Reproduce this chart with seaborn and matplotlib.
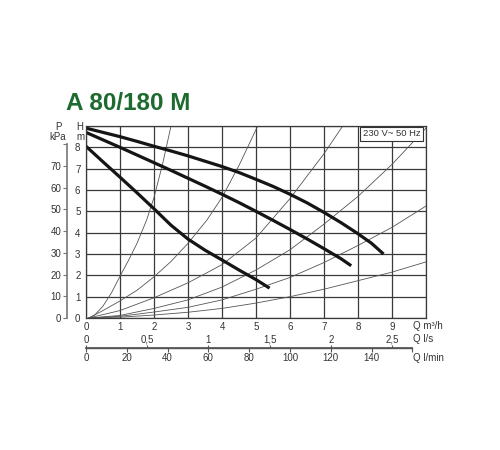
import numpy as np
import pandas as pd
import seaborn as sns
import matplotlib.pyplot as plt

# pump curves: Q in m3/h, H in m (3 speeds)
q_max = [0, 0.5, 1, 1.5, 2, 2.5, 3, 3.5, 4, 4.5, 5, 5.5, 6, 6.5, 7, 7.5, 8, 8.4, 8.75]
h_max = [8.9, 8.7, 8.5, 8.28, 8.05, 7.83, 7.6, 7.35, 7.1, 6.82, 6.5, 6.17, 5.8, 5.4,
         4.95, 4.47, 3.95, 3.5, 3.0]
q_mid = [0, 0.5, 1, 1.5, 2, 2.5, 3, 3.5, 4, 4.5, 5, 5.5, 6, 6.5, 7, 7.5, 7.8]
h_mid = [8.7, 8.35, 8.0, 7.64, 7.28, 6.92, 6.55, 6.18, 5.8, 5.41, 5.0, 4.58, 4.15,
         3.71, 3.25, 2.78, 2.45]
q_min = [0, 0.5, 1, 1.5, 2, 2.5, 3, 3.5, 4, 4.5, 5, 5.4]
h_min = [8.05, 7.32, 6.6, 5.87, 5.12, 4.35, 3.7, 3.18, 2.72, 2.25, 1.8, 1.4]

# system curves (thin lines)
sys_a_q = [0.08, 0.25, 0.5, 0.75, 1, 1.25, 1.5, 1.78, 2, 2.25, 2.5]
sys_a_h = [0, 0.13, 0.56, 1.18, 1.96, 2.7, 3.5, 4.58, 5.65, 7.2, 9.0]
sys_b_q = [0.08, 0.5, 1, 1.5, 2, 2.5, 3, 3.55, 4, 4.5, 5.05]
sys_b_h = [0, 0.35, 0.8, 1.3, 1.93, 2.65, 3.5, 4.58, 5.65, 7.15, 9.0]
sys_c_q = [0.08, 1, 2, 3, 4, 5, 6, 7, 7.55]
sys_c_h = [0, 0.35, 0.95, 1.65, 2.5, 3.75, 5.6, 7.7, 9.0]
sys_d_q = [0.08, 1, 2, 3, 4, 5, 6, 7, 8, 9, 10]
sys_d_h = [0, 0.12, 0.45, 0.85, 1.45, 2.25, 3.2, 4.4, 5.7, 7.2, 8.9]
sys_e_q = [0.08, 1, 2, 3, 4, 5, 6, 7, 8, 9, 10]
sys_e_h = [0, 0.08, 0.28, 0.5, 0.85, 1.35, 1.9, 2.6, 3.4, 4.25, 5.25]
sys_f_q = [0.08, 1, 2, 3, 4, 5, 6, 7, 8, 9, 10]
sys_f_h = [0, 0.04, 0.14, 0.27, 0.45, 0.7, 1.0, 1.35, 1.75, 2.15, 2.63]

# axis ticks
q_ticks = list(range(11))
q_labels = [str(i) for i in range(10)] + [""]
h_ticks = list(range(10))
h_labels = [str(i) for i in range(9)] + [""]
p_ticks = [0, 10, 20, 30, 40, 50, 60, 70, 80]
p_labels = ["0", "10", "20", "30", "40", "50", "60", "70", ""]
ls_ticks = [0, 0.5, 1, 1.5, 2, 2.5]
ls_labels = ["0", "0,5", "1", "1,5", "2", "2,5"]
lmin_ticks = [0, 20, 40, 60, 80, 100, 120, 140, 160]
lmin_labels = ["0", "20", "40", "60", "80", "100", "120", "140", ""]

sns.set_theme(style="white")
plt.rcParams["font.family"] = ["Liberation Sans", "DejaVu Sans"]
plt.rcParams["axes.unicode_minus"] = False

TXT = "#333333"
GRID = "#3a3a3a"

fig = plt.figure(figsize=(5, 4.5), dpi=100)
ax = fig.add_axes([0.172, 0.2933, 0.68, 0.4267])

thin = [(sys_a_q, sys_a_h), (sys_b_q, sys_b_h), (sys_c_q, sys_c_h),
        (sys_d_q, sys_d_h), (sys_e_q, sys_e_h), (sys_f_q, sys_f_h)]
for q, h in thin:
    sns.lineplot(x=q, y=h, ax=ax, color="#555555", lw=0.6, sort=False, estimator=None)

for q, h in [(q_max, h_max), (q_mid, h_mid), (q_min, h_min)]:
    sns.lineplot(x=q, y=h, ax=ax, color="#151515", lw=2.3, sort=False,
                 estimator=None, solid_capstyle="butt", solid_joinstyle="round")

ax.set_xlim(0, 10)
ax.set_ylim(0, 9)
ax.set_xticks(q_ticks)
ax.set_xticklabels(q_labels)
ax.set_yticks(h_ticks)
ax.set_yticklabels(h_labels)
ax.grid(True, color=GRID, lw=0.9)
ax.set_axisbelow(True)
for s in ax.spines.values():
    s.set_color(GRID)
    s.set_linewidth(0.9)
ax.tick_params(axis="both", direction="out", length=3, width=0.8, color=GRID,
               labelsize=7, labelcolor=TXT, pad=1)
ax.tick_params(axis="x", pad=0)
ax.set_xlabel("")
ax.set_ylabel("")

# kPa axis on the left
pax = ax.secondary_yaxis(-0.057, functions=(lambda h: h * 9.81, lambda p: p / 9.81))
pax.set_yticks(p_ticks)
pax.set_yticklabels(p_labels)
pax.spines["left"].set_bounds(0, 80)
pax.spines["left"].set_color("#777777")
pax.spines["left"].set_linewidth(1.2)
pax.tick_params(axis="y", direction="out", length=3, width=0.8, color="#777777",
                labelsize=7, labelcolor=TXT, pad=1)

# flow axes below
lsax = ax.secondary_xaxis(-0.1547, functions=(lambda q: q / 3.6, lambda v: v * 3.6))
lsax.set_alignment("top")
lsax.set_xticks(ls_ticks)
lsax.set_xticklabels(ls_labels)
lsax.spines["top"].set_bounds(0, 160 / 60)
lsax.spines["top"].set_color("#555555")
lsax.tick_params(axis="x", direction="out", length=2.5, width=0.8, color="#555555",
                 labelsize=7, labelcolor=TXT, pad=-0.5)

lmax = ax.secondary_xaxis(-0.1547, functions=(lambda q: q / 0.06, lambda v: v * 0.06))
lmax.set_xticks(lmin_ticks)
lmax.set_xticklabels(lmin_labels)
lmax.spines["bottom"].set_bounds(0, 160)
lmax.spines["bottom"].set_color("#555555")
lmax.spines["bottom"].set_linewidth(1.0)
lmax.tick_params(axis="x", direction="out", length=3, width=0.8, color="#555555",
                 labelsize=7, labelcolor=TXT, pad=0.5)

ax.text(0.983, 0.982, "230 V~ 50 Hz", transform=ax.transAxes, ha="right", va="top",
        fontsize=6.8, color=TXT, family=["Liberation Sans Narrow", "Liberation Sans"],
        zorder=10,
        bbox=dict(boxstyle="square,pad=0.25", facecolor="white", edgecolor="#333333", lw=0.8))

fig.text(0.132, 0.755, "A 80/180 M", fontsize=17.5, fontweight="bold", color="#1d6b2f",
         va="baseline", ha="left")
fig.text(0.116, 0.717, "P", fontsize=7, color=TXT, ha="center", va="center")
fig.text(0.116, 0.695, "kPa", fontsize=7, color=TXT, ha="center", va="center")
fig.text(0.16, 0.717, "H", fontsize=7, color=TXT, ha="center", va="center")
fig.text(0.16, 0.695, "m", fontsize=7, color=TXT, ha="center", va="center")
fig.text(0.826, 0.276, "Q m³/h", fontsize=7, color=TXT, ha="left", va="center")
fig.text(0.826, 0.246, "Q l/s", fontsize=7, color=TXT, ha="left", va="center")
fig.text(0.826, 0.205, "Q l/min", fontsize=7, color=TXT, ha="left", va="center")

fig.savefig("out.png", dpi=100, facecolor="white")
